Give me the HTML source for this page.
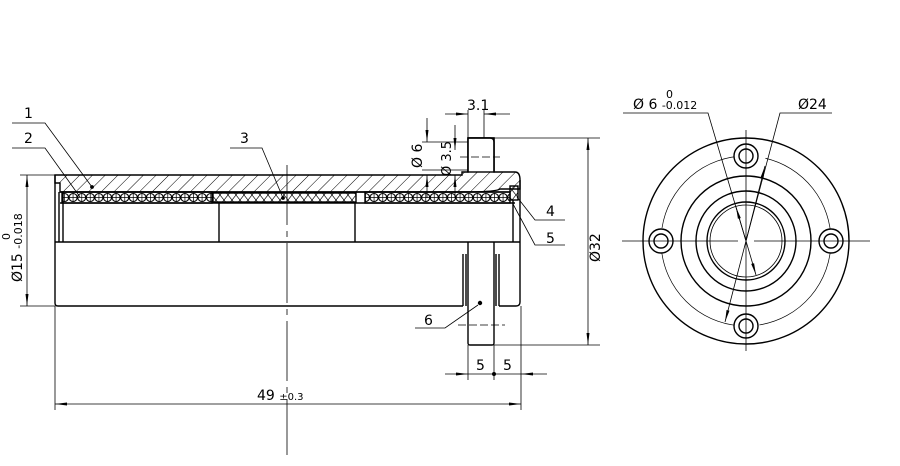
<!DOCTYPE html>
<html><head><style>body{margin:0;background:#fff}svg{display:block}text{font-family:"DejaVu Sans","Liberation Sans",sans-serif;fill:#000}</style></head><body>
<svg width="900" height="466" viewBox="0 0 900 466" xmlns="http://www.w3.org/2000/svg">
<defs>
<pattern id="h" patternUnits="userSpaceOnUse" width="9" height="9" patternTransform="rotate(45)"><line x1="0" y1="0" x2="0" y2="9" stroke="#000" stroke-width="1"/></pattern>
<pattern id="x" patternUnits="userSpaceOnUse" width="8" height="10"><path d="M0 0L8 10M8 0L0 10" stroke="#000" stroke-width="0.7"/></pattern>
<pattern id="b" patternUnits="userSpaceOnUse" x="0" y="192" width="8.6" height="11"><circle cx="4.3" cy="5.5" r="4" fill="#fff" stroke="#000" stroke-width="1.1"/><path d="M4.3 1.5V9.5M0.3 5.5H8.3" stroke="#000" stroke-width="0.7"/></pattern>
<marker id="a" markerWidth="12" markerHeight="6" refX="12" refY="3" orient="auto" markerUnits="userSpaceOnUse"><path d="M0 1.5L12 3L0 4.5z" fill="#000"/></marker>
</defs>
<g stroke="#000" fill="none" stroke-width="1.4">
<path d="M55 175H462V172H468V138H494V172H515Q520 172 520 180V189H500Q496 192 460 192H60V183H55Z" fill="url(#h)"/>
<rect x="468" y="138" width="26" height="34" fill="#fff"/>
<path d="M468 172V138H490Q494 138 494 142V172" />
<rect x="62" y="192" width="150" height="11" fill="url(#b)"/>
<rect x="365" y="192" width="145" height="11" fill="url(#b)"/>
<rect x="213" y="193" width="143" height="9" fill="url(#x)"/>
<line x1="60" y1="203" x2="515" y2="203"/>
<line x1="60" y1="192" x2="510" y2="192"/>
<rect x="510" y="186" width="8" height="14" fill="url(#x)"/>
<path d="M55 175V303Q55 306 58 306H463"/>
<path d="M499 306H516Q520 306 520 302V180"/>
<line x1="63" y1="192" x2="63" y2="242"/>
<line x1="59" y1="192" x2="59" y2="242"/>
<line x1="219" y1="203" x2="219" y2="242"/>
<line x1="355" y1="203" x2="355" y2="242"/>
<line x1="513" y1="200" x2="513" y2="242"/>
<line x1="55" y1="242" x2="520" y2="242"/>
<path d="M468 242V343Q468 345 470 345H492Q494 345 494 343V242"/>
<line x1="463" y1="254" x2="463" y2="306"/><line x1="466" y1="254" x2="466" y2="306"/>
<line x1="496" y1="254" x2="496" y2="306"/><line x1="499" y1="254" x2="499" y2="306"/>
<circle cx="480" cy="303" r="1.5" fill="#000"/>
</g>
<g stroke="#000" fill="none" stroke-width="0.8">
<line x1="287" y1="165" x2="287" y2="455" stroke-dasharray="60 6 6 6"/>
<line x1="460" y1="157" x2="500" y2="157" stroke-dasharray="8 3"/>
<line x1="458" y1="325" x2="505" y2="325" stroke-dasharray="8 3"/>
<path d="M12 123H45L92 187"/><circle cx="92" cy="187" r="1.5" fill="#000"/>
<path d="M12 148H45L80 197"/>
<path d="M230 148H262L283 198"/><circle cx="283" cy="198" r="1.5" fill="#000"/>
<path d="M565 220H535L517 197"/>
<path d="M565 245H535L513 204"/>
<path d="M415 328H445L478 305"/>
<line x1="20" y1="175" x2="55" y2="175"/><line x1="20" y1="306" x2="55" y2="306"/>
<line x1="27" y1="240" x2="27" y2="175" marker-end="url(#a)"/><line x1="27" y1="240" x2="27" y2="306" marker-end="url(#a)"/>
<line x1="55" y1="306" x2="55" y2="410"/><line x1="521" y1="306" x2="521" y2="410"/>
<line x1="288" y1="404" x2="55" y2="404" marker-end="url(#a)"/><line x1="288" y1="404" x2="521" y2="404" marker-end="url(#a)"/>
<line x1="468" y1="345" x2="468" y2="380"/><line x1="494" y1="345" x2="494" y2="380"/>
<line x1="445" y1="374" x2="468" y2="374" marker-end="url(#a)"/><line x1="468" y1="374" x2="521" y2="374"/>
<line x1="547" y1="374" x2="521" y2="374" marker-end="url(#a)"/><circle cx="494" cy="374" r="1.6" fill="#000"/>
<line x1="494" y1="138" x2="600" y2="138"/><line x1="494" y1="345" x2="600" y2="345"/>
<line x1="588" y1="240" x2="588" y2="138" marker-end="url(#a)"/><line x1="588" y1="240" x2="588" y2="345" marker-end="url(#a)"/>
<line x1="468" y1="110" x2="468" y2="138"/><line x1="484" y1="110" x2="484" y2="138"/>
<line x1="445" y1="114" x2="468" y2="114" marker-end="url(#a)"/><line x1="510" y1="114" x2="484" y2="114" marker-end="url(#a)"/>
<line x1="422" y1="142" x2="468" y2="142"/><line x1="422" y1="170" x2="468" y2="170"/>
<line x1="427" y1="118" x2="427" y2="142" marker-end="url(#a)"/><line x1="427" y1="198" x2="427" y2="175" marker-end="url(#a)"/>
<line x1="455" y1="125" x2="455" y2="150" marker-end="url(#a)"/><line x1="455" y1="198" x2="455" y2="175" marker-end="url(#a)"/>
</g>
<g font-size="14">
<text x="24" y="118">1</text><text x="24" y="143">2</text><text x="240" y="143">3</text>
<text x="546" y="216">4</text><text x="546" y="243">5</text><text x="424" y="325">6</text>
<text x="476" y="370">5</text><text x="503" y="370">5</text>
<text x="257" y="400">49 <tspan font-size="10">±0.3</tspan></text>
<text x="467" y="110">3.1</text>
<text transform="translate(422,168) rotate(-90)">Ø 6</text>
<text transform="translate(451,176) rotate(-90)" font-size="13">Ø 3.5</text>
<text transform="translate(600,262) rotate(-90)">Ø32</text>
<text transform="translate(22,282) rotate(-90)">Ø15 <tspan font-size="11">-0.018</tspan></text>
<text transform="translate(10,240) rotate(-90)" font-size="11">0</text>
</g>
<g stroke="#000" fill="none" stroke-width="1.4" transform="translate(746,241)">
<circle r="103"/><circle r="65"/><circle r="50"/><circle r="39"/><circle r="36" stroke-width="0.8"/>
<circle r="85" stroke-width="0.7" stroke-dasharray="120 8 4 8"/>
<g fill="#fff"><circle cx="0" cy="-85" r="12"/><circle cx="0" cy="85" r="12"/><circle cx="-85" cy="0" r="12"/><circle cx="85" cy="0" r="12"/></g>
<circle cx="0" cy="-85" r="7"/><circle cx="0" cy="85" r="7"/><circle cx="-85" cy="0" r="7"/><circle cx="85" cy="0" r="7"/>
<g stroke-width="0.8">
<line x1="-124" y1="0" x2="-8" y2="0"/><line x1="8" y1="0" x2="124" y2="0"/>
<line x1="0" y1="-111" x2="0" y2="110"/>
</g>
</g>
<g stroke="#000" fill="none" stroke-width="0.8">
<path d="M623 113H708L746 241"/>
<line x1="746" y1="241" x2="736" y2="207" marker-end="url(#a)"/><line x1="746" y1="241" x2="756" y2="275" marker-end="url(#a)"/>
<path d="M832 113H780L746 241"/>
<line x1="746" y1="241" x2="765" y2="166" marker-end="url(#a)"/><line x1="746" y1="241" x2="725" y2="322" marker-end="url(#a)"/>
</g>
<g font-size="14">
<text x="633" y="109">Ø 6 <tspan font-size="11">-0.012</tspan></text>
<text x="666" y="98" font-size="11">0</text>
<text x="798" y="109">Ø24</text>
</g>
</svg>
</body></html>
